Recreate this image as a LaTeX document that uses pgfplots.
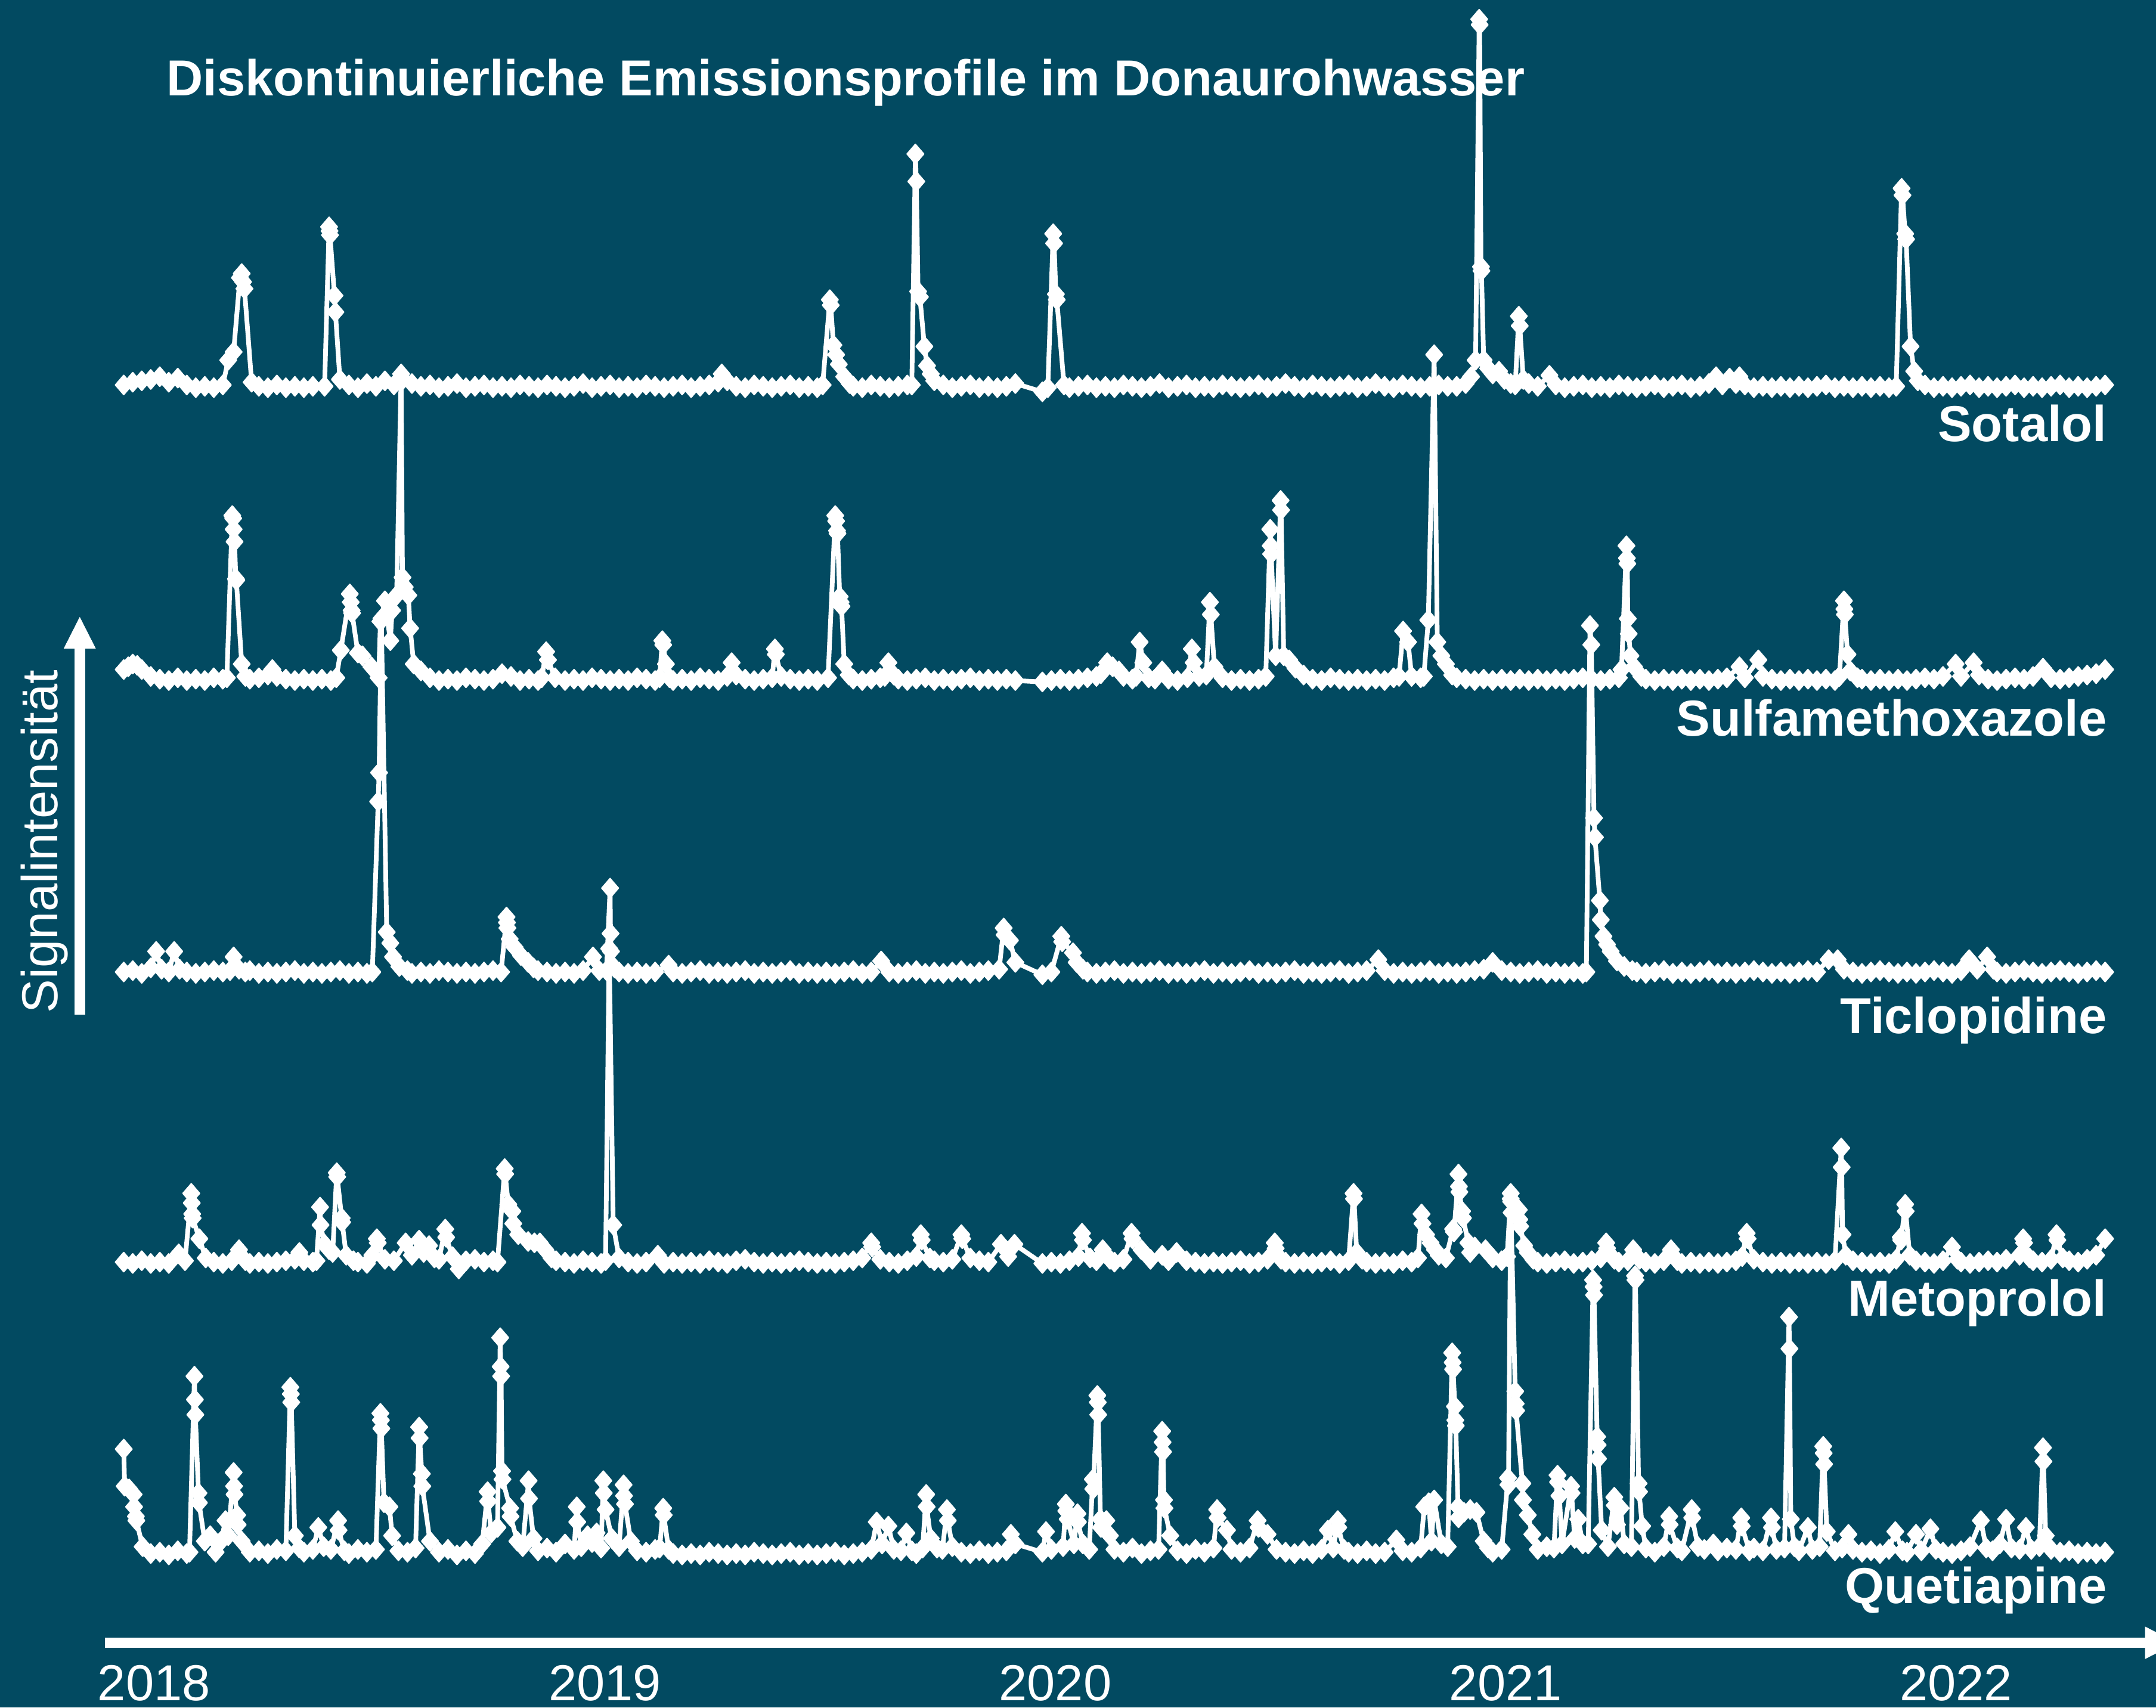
\documentclass[border=0pt]{standalone}
\usepackage{pgfplots}
\pgfplotsset{compat=1.18}
\usepackage{pgfplotstable}
\usepackage{fontspec}
\setmainfont{Liberation Sans}
\definecolor{bg}{RGB}{2,74,97}

\pgfplotstableread[row sep=\\]{
i v\\
0 2\\ 1 4\\ 2 5\\ 3 6\\ 4 8\\ 5 4\\ 6 7\\ 7 2\\ 8 0\\ 9 1\\ 10 0\\ 11 2\\ 11.6 20\\ 12.2 26\\ 12.9 80\\ 13.1 83\\ 13.25 77\\ 13.4 72\\ 14.2 4\\ 15 1\\ 16 0\\ 17 2\\ 18 0\\ 19 1\\ 20 0\\ 21 1\\ 22.3 1\\ 22.8 117\\ 22.85 114\\ 22.9 111\\ 23.4 67\\ 23.5 55\\ 24 6\\ 25 2\\ 26 0\\ 27 3\\ 28 1\\ 29 5\\ 30 2\\ 31 6\\ 32 3\\ 33 1\\ 34 2\\ 35 0\\ 36 1\\ 37 3\\ 38 0\\ 39 1\\ 40 2\\ 41 0\\ 42 1\\ 43 0\\ 44 2\\ 45 1\\ 46 0\\ 47 2\\ 48 1\\ 49 0\\ 50 1\\ 51 3\\ 52 0\\ 53 1\\ 54 2\\ 55 0\\ 56 1\\ 57 0\\ 58 2\\ 59 1\\ 60 0\\ 61 1\\ 62 2\\ 63 0\\ 64 1\\ 65 2\\ 66 4\\ 66.4 10\\ 67 5\\ 68 1\\ 69 0\\ 70 2\\ 71 1\\ 72 0\\ 73 1\\ 74 2\\ 75 0\\ 76 1\\ 77 0\\ 77.6 2\\ 78.4 64\\ 78.5 60\\ 78.8 31\\ 79.1 24\\ 79.4 17\\ 80 8\\ 80.6 3\\ 81 1\\ 82 0\\ 83 2\\ 84 1\\ 85 0\\ 86 1\\ 87 2\\ 87.5 2\\ 87.9 170\\ 88 150\\ 88.2 70\\ 88.4 66\\ 88.9 30\\ 89.2 16\\ 89.6 10\\ 90 5\\ 91 2\\ 92 0\\ 93 1\\ 94 2\\ 95 0\\ 96 1\\ 97 0\\ 98 1\\ 99 3\\ 102 -3\\ 102.6 0\\ 103.2 112\\ 103.3 105\\ 103.5 68\\ 103.6 64\\ 104.4 2\\ 105 0\\ 106 1\\ 107 2\\ 108 0\\ 109 1\\ 110 0\\ 111 2\\ 112 1\\ 113 0\\ 114 1\\ 115 3\\ 116 0\\ 117 1\\ 118 2\\ 119 0\\ 120 1\\ 121 0\\ 122 2\\ 123 1\\ 124 0\\ 125 1\\ 126 2\\ 127 0\\ 128 1\\ 129 3\\ 130 1\\ 131 0\\ 132 2\\ 133 1\\ 134 0\\ 135 1\\ 136 2\\ 137 0\\ 138 1\\ 139 3\\ 140 1\\ 141 0\\ 142 2\\ 143 1\\ 144 0\\ 145 1\\ 146 2\\ 147 1\\ 148 1\\ 149 3\\ 149.6 8\\ 150.1 20\\ 150.5 268\\ 150.55 264\\ 150.7 88\\ 150.75 85\\ 151 20\\ 151.5 14\\ 152 10\\ 152.7 12\\ 153.3 6\\ 154 3\\ 154.5 2\\ 154.9 52\\ 155 45\\ 155.4 6\\ 156 3\\ 157 1\\ 158.3 9\\ 159 2\\ 160 0\\ 161 1\\ 162 2\\ 163 0\\ 164 1\\ 165 0\\ 166 2\\ 167 1\\ 168 0\\ 169 1\\ 170 2\\ 171 0\\ 172 1\\ 173 2\\ 174 0\\ 175 1\\ 176 3\\ 176.8 8\\ 177.5 2\\ 178.3 7\\ 179 3\\ 179.4 8\\ 180 2\\ 181 0\\ 182 1\\ 183 0\\ 184 1\\ 185 0\\ 186 1\\ 187 0\\ 188 1\\ 189 2\\ 190 0\\ 191 1\\ 192 0\\ 193 1\\ 194 0\\ 195 1\\ 196 0\\ 196.8 1\\ 197.4 145\\ 197.5 140\\ 197.8 112\\ 197.9 108\\ 198.4 30\\ 198.8 12\\ 199.2 5\\ 200 2\\ 201 0\\ 202 1\\ 203 0\\ 204 1\\ 205 2\\ 206 0\\ 207 1\\ 208 0\\ 209 1\\ 210 2\\ 211 0\\ 212 1\\ 213 0\\ 214 1\\ 215 2\\ 216 0\\ 217 1\\ 218 0\\ 219 1\\ 220 2\\
}\sot

\pgfplotstableread[row sep=\\]{
i v\\
0 8\\ 0.5 10\\ 1 12\\ 1.5 11\\ 2 8\\ 3 3\\ 4 1\\ 5 0\\ 6 2\\ 7 0\\ 8 1\\ 9 0\\ 10 2\\ 11 1\\ 11.45 2\\ 12.05 120\\ 12.15 118\\ 12.2 110\\ 12.3 101\\ 12.45 74\\ 12.5 73\\ 13.1 12\\ 13.5 3\\ 14 1\\ 15 2\\ 16 4\\ 16.5 8\\ 17 3\\ 18 1\\ 19 0\\ 20 1\\ 21 0\\ 22 1\\ 23 0\\ 23.6 2\\ 24.1 22\\ 25.1 63\\ 25.2 57\\ 25.3 51\\ 25.35 49\\ 26 20\\ 26.5 18\\ 27.5 10\\ 28.3 2\\ 28.5 43\\ 29 58\\ 29.6 29\\ 29.8 51\\ 30.3 62\\ 30.8 223\\ 30.95 75\\ 31.2 68\\ 31.6 62\\ 31.8 38\\ 32.2 12\\ 33 7\\ 34 2\\ 35 0\\ 36 1\\ 37 0\\ 38 2\\ 39 1\\ 40 0\\ 41 1\\ 42 5\\ 43 3\\ 44 0\\ 45 1\\ 46 0\\ 46.4 2\\ 46.9 21\\ 47.1 15\\ 47.9 2\\ 49 0\\ 50 1\\ 51 0\\ 52 2\\ 53 1\\ 54 0\\ 55 1\\ 56 0\\ 57 2\\ 58 1\\ 59 0\\ 59.5 2\\ 59.8 29\\ 59.9 26\\ 60.2 12\\ 60.6 2\\ 61 0\\ 62 1\\ 63 0\\ 64 2\\ 65 1\\ 66 0\\ 67 3\\ 67.5 13\\ 68 4\\ 69 1\\ 70 0\\ 71 1\\ 72 2\\ 72.3 23\\ 72.4 19\\ 73 3\\ 74 1\\ 75 0\\ 76 1\\ 77 0\\ 78.2 2\\ 79 120\\ 79.1 116\\ 79.2 109\\ 79.25 107\\ 79.5 61\\ 79.6 57\\ 79.7 54\\ 80 12\\ 80.5 4\\ 81 1\\ 82 0\\ 83 1\\ 84 2\\ 84.5 3\\ 84.9 13\\ 85.5 4\\ 86 1\\ 87 0\\ 88 1\\ 89 2\\ 90 0\\ 91 1\\ 92 0\\ 93 1\\ 94 2\\ 95 0\\ 96 1\\ 97 0\\ 98 1\\ 99 0\\ 102 -1\\ 103 0\\ 104 1\\ 105 0\\ 106 1\\ 107 2\\ 108 3\\ 108.5 5\\ 109.2 13\\ 109.8 10\\ 110.5 7\\ 111 3\\ 112 1\\ 112.4 3\\ 112.8 28\\ 113.2 13\\ 113.8 2\\ 114.5 1\\ 115.3 7\\ 116 1\\ 117 0\\ 118.1 2\\ 118.6 23\\ 118.8 13\\ 119.4 3\\ 120.2 4\\ 120.6 57\\ 120.7 48\\ 121.1 10\\ 122 2\\ 123 0\\ 124 1\\ 125 0\\ 126 1\\ 126.8 3\\ 127.3 110\\ 127.35 98\\ 127.4 92\\ 127.9 18\\ 128.45 131\\ 128.5 124\\ 128.8 18\\ 129.4 15\\ 130.1 9\\ 131 4\\ 132 1\\ 133 0\\ 134 2\\ 135 1\\ 136 0\\ 137 1\\ 138 0\\ 139 1\\ 140 0\\ 141 2\\ 141.6 3\\ 142.05 36\\ 142.6 28\\ 143 3\\ 144 2\\ 144.35 3\\ 144.85 44\\ 145.5 237\\ 145.85 28\\ 146.3 18\\ 146.8 12\\ 147.5 4\\ 148 2\\ 149 1\\ 150 0\\ 151 1\\ 152 0\\ 153 1\\ 154 0\\ 155 1\\ 156 0\\ 157 1\\ 158 0\\ 159 1\\ 160 0\\ 161 1\\ 162 2\\ 163 1\\ 164 0\\ 165 1\\ 166 2\\ 166.3 8\\ 166.85 98\\ 166.9 89\\ 166.95 85\\ 167 45\\ 167.1 34\\ 167.3 18\\ 167.7 10\\ 168.5 3\\ 169 1\\ 170 0\\ 171 1\\ 172 0\\ 173 1\\ 174 0\\ 175 1\\ 176 0\\ 177 1\\ 178 2\\ 179.4 10\\ 180 2\\ 181.5 15\\ 182 3\\ 183 1\\ 184 0\\ 185 1\\ 186 0\\ 187 1\\ 188 0\\ 189 1\\ 190 0\\ 190.5 3\\ 191 58\\ 191.05 52\\ 191.1 48\\ 191.4 19\\ 191.7 7\\ 192.5 2\\ 193 1\\ 194 0\\ 195 1\\ 196 0\\ 197 1\\ 198 0\\ 199 1\\ 200 2\\ 201 1\\ 202 3\\ 203.4 12\\ 204 3\\ 205.4 13\\ 206 4\\ 207 1\\ 208 0\\ 209 1\\ 210 2\\ 211 1\\ 212 3\\ 213.1 9\\ 214 2\\ 215 1\\ 216 2\\ 217 3\\ 218 4\\ 219 5\\ 220 8\\
}\sul

\pgfplotstableread[row sep=\\]{
i v\\
0 1\\ 1 2\\ 2 0\\ 3 4\\ 3.6 16\\ 4.2 3\\ 5 1\\ 5.6 16\\ 6.2 3\\ 7 1\\ 8 0\\ 9 1\\ 10 2\\ 11 1\\ 11.8 2\\ 12.2 12\\ 12.8 3\\ 13.5 1\\ 14 2\\ 15 0\\ 16 1\\ 17 0\\ 18 1\\ 19 2\\ 20 0\\ 21 1\\ 22 0\\ 23 1\\ 24 2\\ 25 0\\ 26 1\\ 27 0\\ 27.6 1\\ 28.25 125\\ 28.35 146\\ 28.6 258\\ 29.2 30\\ 29.6 22\\ 29.9 12\\ 30.6 5\\ 31.5 2\\ 32 0\\ 33 1\\ 34 0\\ 35 2\\ 36 1\\ 37 0\\ 38 1\\ 39 0\\ 40 1\\ 41 2\\ 41.9 1\\ 42.5 41\\ 42.55 37\\ 42.6 33\\ 42.85 25\\ 43.4 19\\ 44.1 13\\ 44.9 8\\ 45.5 4\\ 46 2\\ 47 1\\ 48 0\\ 49 1\\ 50 0\\ 51 2\\ 52.1 12\\ 52.8 2\\ 53.6 2\\ 54 62\\ 54.05 29\\ 54.1 16\\ 54.5 4\\ 55 1\\ 56 0\\ 57 1\\ 58 0\\ 59 1\\ 60.5 6\\ 61 1\\ 62 0\\ 63 1\\ 64 2\\ 65 0\\ 66 1\\ 67 0\\ 68 1\\ 69 2\\ 70 0\\ 71 1\\ 72 0\\ 73 1\\ 74 2\\ 75 0\\ 76 1\\ 77 0\\ 78 1\\ 79 0\\ 80 1\\ 81 2\\ 82 0\\ 83 1\\ 84.1 9\\ 85 1\\ 86 0\\ 87 1\\ 88 2\\ 89 0\\ 90 1\\ 91 0\\ 92 1\\ 93 2\\ 94 0\\ 95 1\\ 96 2\\ 97.2 3\\ 97.7 33\\ 97.8 28\\ 98.4 24\\ 99 8\\ 102 -1\\ 103 1\\ 104.1 27\\ 104.2 23\\ 105.4 15\\ 105.8 8\\ 106.5 3\\ 107 1\\ 108 0\\ 109 1\\ 110 2\\ 111 0\\ 112 1\\ 113 0\\ 114 1\\ 115 2\\ 116 0\\ 117 1\\ 118 0\\ 119 1\\ 120 2\\ 121 0\\ 122 1\\ 123 0\\ 124 1\\ 125 2\\ 126 0\\ 127 1\\ 128 0\\ 129 1\\ 130 2\\ 131 0\\ 132 1\\ 133 0\\ 134 1\\ 135 2\\ 136 0\\ 137 1\\ 138 2\\ 139.3 10\\ 140 2\\ 141 0\\ 142 1\\ 143 0\\ 144 1\\ 145 2\\ 146 0\\ 147 1\\ 148 0\\ 149 1\\ 150 2\\ 151 3\\ 152 8\\ 153 2\\ 154 1\\ 155 0\\ 156 1\\ 157 2\\ 158 0\\ 159 1\\ 160 0\\ 161 1\\ 162 0\\ 162.4 1\\ 162.8 253\\ 162.95 239\\ 163.25 113\\ 163.35 99\\ 163.9 53\\ 164 39\\ 164.3 27\\ 164.7 21\\ 165.1 16\\ 165.8 9\\ 166.6 5\\ 167.5 2\\ 168 1\\ 169 0\\ 170 1\\ 171 2\\ 172 0\\ 173 1\\ 174 0\\ 175 1\\ 176 2\\ 177 0\\ 178 1\\ 179 0\\ 180 1\\ 181 2\\ 182 1\\ 183 0\\ 184 1\\ 185 0\\ 186 1\\ 187 2\\ 188 1\\ 189.3 10\\ 190.3 10\\ 191 3\\ 192 1\\ 193 0\\ 194 1\\ 195 2\\ 196 1\\ 197 0\\ 198 1\\ 199 0\\ 200 1\\ 201 2\\ 202 1\\ 203 0\\ 204 2\\ 204.9 10\\ 205.8 3\\ 206.9 12\\ 207.6 3\\ 208 1\\ 209 0\\ 210 1\\ 211 2\\ 212 1\\ 213 0\\ 214 1\\ 215 2\\ 216 1\\ 217 0\\ 218 1\\ 219 2\\ 220 1\\
}\tic

\pgfplotstableread[row sep=\\]{
i v\\
0 1\\ 1 0\\ 2 2\\ 3 0\\ 4 1\\ 5 0\\ 6.1 7\\ 6.8 2\\ 7.5 51\\ 7.55 44\\ 7.6 36\\ 7.65 33\\ 8.4 18\\ 9.1 4\\ 10 1\\ 11 0\\ 12 2\\ 12.8 10\\ 13.5 2\\ 14 0\\ 15 1\\ 16 0\\ 17 1\\ 18 2\\ 19 3\\ 19.5 8\\ 20 2\\ 21 1\\ 21.4 2\\ 21.8 41\\ 21.85 28\\ 22.3 14\\ 22.8 10\\ 23.2 8\\ 23.65 66\\ 23.7 63\\ 24.2 33\\ 24.25 30\\ 24.7 6\\ 25.5 2\\ 26 1\\ 27 0\\ 27.6 6\\ 28.1 18\\ 28.2 15\\ 29 3\\ 30 2\\ 31.3 15\\ 32 6\\ 32.8 17\\ 33.3 8\\ 33.9 13\\ 34.5 4\\ 35 3\\ 35.7 25\\ 35.8 19\\ 36.5 5\\ 37.2 -4\\ 38 2\\ 39 3\\ 40 1\\ 41 2\\ 41.5 1\\ 42.3 69\\ 42.35 65\\ 42.7 43\\ 43.15 38\\ 43.25 29\\ 43.8 21\\ 44.9 16\\ 45.6 15\\ 46.2 15\\ 46.8 10\\ 47.5 4\\ 48 2\\ 49 1\\ 50 0\\ 51 2\\ 52 1\\ 53 0\\ 53.5 2\\ 53.9 229\\ 54.35 28\\ 55 4\\ 56 1\\ 57 0\\ 58 1\\ 59.3 6\\ 60 0\\ 61 1\\ 62 0\\ 63 1\\ 64 0\\ 65 2\\ 66 1\\ 67 0\\ 68 2\\ 69 3\\ 70 1\\ 71 0\\ 72 1\\ 73 0\\ 74 1\\ 75 2\\ 76 1\\ 77 0\\ 78 1\\ 79 0\\ 80 1\\ 81 2\\ 82 4\\ 83 15\\ 83.1 12\\ 84 3\\ 85 1\\ 86 0\\ 87 2\\ 88 5\\ 88.5 21\\ 88.6 17\\ 89.5 4\\ 90 2\\ 91 1\\ 92 3\\ 93 21\\ 93.1 18\\ 94 4\\ 95 2\\ 96 1\\ 97.4 14\\ 98.2 5\\ 98.9 14\\ 102 0\\ 103 1\\ 104 0\\ 105 2\\ 106 5\\ 106.4 22\\ 106.5 17\\ 107.3 4\\ 108 2\\ 108.7 10\\ 109.5 3\\ 110 1\\ 111 3\\ 111.9 22\\ 112 18\\ 113 10\\ 114 3\\ 115.3 6\\ 116 2\\ 116.9 8\\ 118 2\\ 119 1\\ 120 0\\ 121 1\\ 122 0\\ 123 1\\ 124 2\\ 125 0\\ 126 1\\ 127 3\\ 127.8 15\\ 127.9 11\\ 128.5 3\\ 129 1\\ 130 0\\ 131 1\\ 132 0\\ 133 1\\ 134 2\\ 135 0\\ 136 2\\ 136.55 51\\ 136.6 47\\ 136.9 8\\ 137.5 3\\ 138 1\\ 139 0\\ 140 1\\ 141 0\\ 142 2\\ 143 1\\ 143.7 4\\ 144.1 36\\ 144.2 29\\ 144.6 21\\ 145.1 15\\ 145.6 10\\ 146 6\\ 146.8 4\\ 147.6 25\\ 147.7 23\\ 148.2 65\\ 148.25 56\\ 148.3 52\\ 148.6 38\\ 148.7 33\\ 149.3 15\\ 149.5 8\\ 150 12\\ 151.2 10\\ 152 4\\ 153 2\\ 153.6 5\\ 154 51\\ 154.05 45\\ 154.1 37\\ 154.9 39\\ 154.95 32\\ 155.05 27\\ 155.5 13\\ 155.9 8\\ 156.5 3\\ 157 1\\ 158 0\\ 159 1\\ 160 2\\ 161 0\\ 162 1\\ 163 2\\ 164 4\\ 164.6 15\\ 164.7 11\\ 165.5 3\\ 166 1\\ 167 2\\ 167.6 10\\ 168.3 3\\ 169 1\\ 170 0\\ 171 2\\ 171.8 10\\ 172.5 2\\ 173 0\\ 174 1\\ 175 0\\ 176 1\\ 177 0\\ 178 1\\ 179 2\\ 179.7 5\\ 180.2 22\\ 180.3 18\\ 181 3\\ 182 1\\ 183 0\\ 184 1\\ 185 0\\ 186 1\\ 187 0\\ 188 1\\ 189 0\\ 190 2\\ 190.7 84\\ 190.75 70\\ 190.85 21\\ 191.2 6\\ 192 2\\ 193 1\\ 194 0\\ 195 1\\ 196 0\\ 196.8 3\\ 197.3 19\\ 197.35 17\\ 197.8 43\\ 197.85 38\\ 198.3 6\\ 199 2\\ 200 1\\ 201 0\\ 202 2\\ 203 12\\ 203.6 3\\ 204 1\\ 205 0\\ 206 1\\ 207 2\\ 208 1\\ 209 3\\ 210.5 6\\ 210.9 18\\ 211 15\\ 211.6 4\\ 212 2\\ 213 1\\ 214 3\\ 214.6 21\\ 214.7 17\\ 215.3 4\\ 216 2\\ 217 1\\ 218 3\\ 219 6\\ 220 18\\
}\met

\pgfplotstableread[row sep=\\]{
i v\\
0 77\\ 0.1 50\\ 0.6 48\\ 1.1 44\\ 1.15 35\\ 1.35 28\\ 1.4 25\\ 2.1 6\\ 3 1\\ 4 2\\ 5 0\\ 6 3\\ 7 1\\ 7.3 2\\ 7.85 130\\ 7.9 113\\ 7.95 102\\ 8.3 45\\ 8.35 38\\ 9 10\\ 9.6 14\\ 10.2 2\\ 10.8 10\\ 11.3 25\\ 11.6 14\\ 12.2 60\\ 12.25 50\\ 12.3 44\\ 12.6 29\\ 12.65 22\\ 13.1 10\\ 14 2\\ 15 3\\ 16 1\\ 17 4\\ 18 3\\ 18.5 122\\ 18.55 117\\ 18.6 111\\ 19 14\\ 19.5 5\\ 20 2\\ 21 4\\ 21.6 20\\ 22.2 6\\ 23 4\\ 23.8 25\\ 23.85 18\\ 24.5 3\\ 25 1\\ 26 4\\ 27 2\\ 28 4\\ 28.5 103\\ 28.55 98\\ 28.6 92\\ 28.9 38\\ 29.5 35\\ 29.8 14\\ 30.5 3\\ 31.5 2\\ 32.4 5\\ 32.8 93\\ 32.85 85\\ 33.1 59\\ 33.15 50\\ 34 10\\ 35 2\\ 36 4\\ 37 0\\ 38 3\\ 39 1\\ 39.8 8\\ 40.4 46\\ 40.45 39\\ 40.8 16\\ 41.5 20\\ 41.8 158\\ 41.85 137\\ 41.9 130\\ 42 61\\ 42.05 55\\ 42.9 34\\ 42.95 28\\ 43.7 10\\ 44.3 6\\ 44.95 54\\ 45 41\\ 45.5 12\\ 46 3\\ 47 5\\ 48 2\\ 49 8\\ 50 4\\ 50.3 35\\ 50.35 24\\ 50.8 6\\ 51.5 14\\ 52 9\\ 52.5 16\\ 53 5\\ 53.25 54\\ 53.3 45\\ 53.5 33\\ 54.2 12\\ 55 6\\ 55.5 51\\ 55.55 43\\ 55.65 37\\ 56.3 10\\ 57 3\\ 58 2\\ 59 4\\ 59.5 5\\ 59.9 34\\ 59.95 29\\ 60.5 4\\ 61 1\\ 62 0\\ 63 1\\ 64 0\\ 65 2\\ 66 1\\ 67 0\\ 68 1\\ 69 0\\ 70 2\\ 71 1\\ 72 0\\ 73 1\\ 74 2\\ 75 0\\ 76 1\\ 77 0\\ 78 1\\ 79 2\\ 80 0\\ 81 1\\ 82 2\\ 83 4\\ 83.6 24\\ 84.2 8\\ 84.9 21\\ 85.5 4\\ 86.3 3\\ 86.9 16\\ 87.5 3\\ 88 1\\ 88.7 5\\ 89.1 44\\ 89.15 35\\ 89.6 12\\ 90.3 5\\ 90.9 4\\ 91.4 33\\ 91.5 25\\ 92 6\\ 93 2\\ 94 1\\ 95 3\\ 96 1\\ 97 2\\ 98 3\\ 98.5 15\\ 99 8\\ 102 2\\ 102.4 17\\ 103 4\\ 104.3 6\\ 104.6 37\\ 104.65 32\\ 104.8 26\\ 105.5 8\\ 105.9 30\\ 105.95 24\\ 106.5 8\\ 107.2 4\\ 107.6 55\\ 107.65 48\\ 108.1 116\\ 108.15 111\\ 108.2 102\\ 108.45 26\\ 108.5 20\\ 109.1 25\\ 109.5 14\\ 110 4\\ 111 2\\ 112 5\\ 113 1\\ 114 3\\ 114.9 4\\ 115.3 90\\ 115.35 82\\ 115.4 75\\ 115.5 40\\ 115.55 34\\ 116.2 14\\ 117 3\\ 118 1\\ 119 4\\ 120 2\\ 121 5\\ 121.4 33\\ 121.45 27\\ 122.5 18\\ 123 4\\ 124 2\\ 125 5\\ 125.9 25\\ 126 20\\ 127 15\\ 128 4\\ 129 2\\ 130 1\\ 131 3\\ 132 1\\ 133 4\\ 133.7 18\\ 134.3 5\\ 134.8 25\\ 134.85 20\\ 135.5 4\\ 136 2\\ 137 1\\ 138 3\\ 139 1\\ 140 2\\ 141.3 11\\ 142 3\\ 143 2\\ 144 5\\ 144.4 35\\ 144.9 38\\ 145.2 10\\ 145.5 40\\ 146.3 8\\ 147 6\\ 147.5 147\\ 147.55 140\\ 147.6 135\\ 147.8 108\\ 147.85 98\\ 147.9 94\\ 148.15 35\\ 148.2 27\\ 148.8 31\\ 149.5 33\\ 150.2 31\\ 151 10\\ 151.5 5\\ 152 2\\ 153 4\\ 153.7 56\\ 153.75 51\\ 154 259\\ 154.5 119\\ 154.55 110\\ 154.6 105\\ 155.3 52\\ 155.35 40\\ 155.9 29\\ 156.4 15\\ 157 4\\ 158 6\\ 158.8 5\\ 159.2 58\\ 159.25 53\\ 159.4 43\\ 159.7 8\\ 160.7 50\\ 160.75 45\\ 161.1 12\\ 161.5 26\\ 162 8\\ 162.6 8\\ 163.15 200\\ 163.2 195\\ 163.25 189\\ 163.6 86\\ 163.65 80\\ 163.7 70\\ 164.1 18\\ 164.8 6\\ 165.5 42\\ 165.55 36\\ 165.8 22\\ 166.2 34\\ 166.6 8\\ 167.4 6\\ 167.8 203\\ 167.85 200\\ 168.2 52\\ 168.25 46\\ 168.6 21\\ 169 5\\ 170 2\\ 171 6\\ 171.6 28\\ 171.65 22\\ 172.5 5\\ 173 3\\ 174.1 33\\ 174.15 27\\ 174.8 6\\ 175.5 4\\ 176.5 8\\ 177 3\\ 178 5\\ 179 4\\ 179.6 27\\ 179.65 21\\ 180.5 3\\ 181 5\\ 182 3\\ 182.9 27\\ 183 20\\ 183.5 4\\ 184.4 5\\ 184.9 173\\ 184.95 150\\ 185.1 26\\ 185.5 6\\ 186 3\\ 187 20\\ 187.5 4\\ 188.3 6\\ 188.7 79\\ 188.75 74\\ 188.8 66\\ 189.1 17\\ 190 3\\ 190.8 5\\ 191.5 15\\ 192 4\\ 193 2\\ 194 3\\ 195 1\\ 196 4\\ 196.7 17\\ 197.5 3\\ 198 2\\ 199 15\\ 199.6 3\\ 200.6 19\\ 201.2 4\\ 202 2\\ 203 1\\ 204 3\\ 205 6\\ 206.2 25\\ 206.8 5\\ 207.5 3\\ 208.3 8\\ 209 26\\ 209.6 5\\ 210.5 4\\ 211.2 20\\ 211.8 4\\ 212.7 6\\ 213.1 78\\ 213.15 68\\ 213.4 14\\ 214 4\\ 215 2\\ 216 3\\ 217 1\\ 218 2\\ 219 1\\ 220 2\\
}\que

\begin{document}
\begin{tikzpicture}
\fill[bg] (0,0) rectangle (784pt,-621pt);
\begin{axis}[
  at={(0,0)}, anchor=north west,
  width=784pt, height=621pt, scale only axis,
  xmin=-13.74, xmax=225.65, ymin=0, ymax=1242,
  hide axis, clip=false,
  ser/.style={draw=white, line width=1.7pt, line join=round,
     mark=diamond*, mark size=3.5pt,
     mark options={xscale=1.15, solid, draw=white, fill=white, line width=0.5pt}},
]
\addplot[ser] table[x=i, y expr=\thisrow{v}+960] {\sot};
\addplot[ser] table[x=i, y expr=\thisrow{v}+747] {\sul};
\addplot[ser] table[x=i, y expr=\thisrow{v}+534] {\tic};
\addplot[ser] table[x=i, y expr=\thisrow{v}+323] {\met};
\addplot[ser] table[x=i, y expr=\thisrow{v}+111] {\que};
\end{axis}
\begin{scope}[x=0.5pt,y=-0.5pt]
  \fill[white] (76.3,1191.0) rectangle (1560,1198.7);
  \fill[white] (1560,1183.1) -- (1583.5,1194.9) -- (1560,1206.7) -- cycle;
  \fill[white] (54.05,471.7) rectangle (61.95,738);
  \fill[white] (46.35,471.7) -- (58,448.7) -- (69.65,471.7) -- cycle;
  \begin{scope}[every node/.style={text=white, inner sep=0pt}]
  \node[anchor=base west, font=\bfseries\fontsize{18.4}{22}\selectfont] at (120.7,69.7) {Diskontinuierliche Emissionsprofile im Donaurohwasser};
  \node[anchor=base east, font=\bfseries\fontsize{18.4}{22}\selectfont] at (1532.5,321.2) {Sotalol};
  \node[anchor=base east, font=\bfseries\fontsize{18.4}{22}\selectfont] at (1532.5,535.2) {Sulfamethoxazole};
  \node[anchor=base east, font=\bfseries\fontsize{18.4}{22}\selectfont] at (1532.5,751.7) {Ticlopidine};
  \node[anchor=base east, font=\bfseries\fontsize{18.4}{22}\selectfont] at (1532.5,957.3) {Metoprolol};
  \node[anchor=base east, font=\bfseries\fontsize{18.4}{22}\selectfont] at (1532.5,1166.2) {Quetiapine};
  \node[anchor=base, font=\fontsize{18.4}{22}\selectfont] at (112,1236.9) {2018};
  \node[anchor=base, font=\fontsize{18.4}{22}\selectfont] at (440,1236.9) {2019};
  \node[anchor=base, font=\fontsize{18.4}{22}\selectfont] at (767.5,1236.9) {2020};
  \node[anchor=base, font=\fontsize{18.4}{22}\selectfont] at (1095,1236.9) {2021};
  \node[anchor=base, font=\fontsize{18.4}{22}\selectfont] at (1422.6,1236.9) {2022};
  \node[anchor=base, rotate=90, font=\fontsize{18.4}{22}\selectfont] at (41.8,612) {Signalintensität};
  \end{scope}
\end{scope}
\pgfresetboundingbox
\path[use as bounding box] (0,0) rectangle (784pt,-621pt);
\end{tikzpicture}
\end{document}
